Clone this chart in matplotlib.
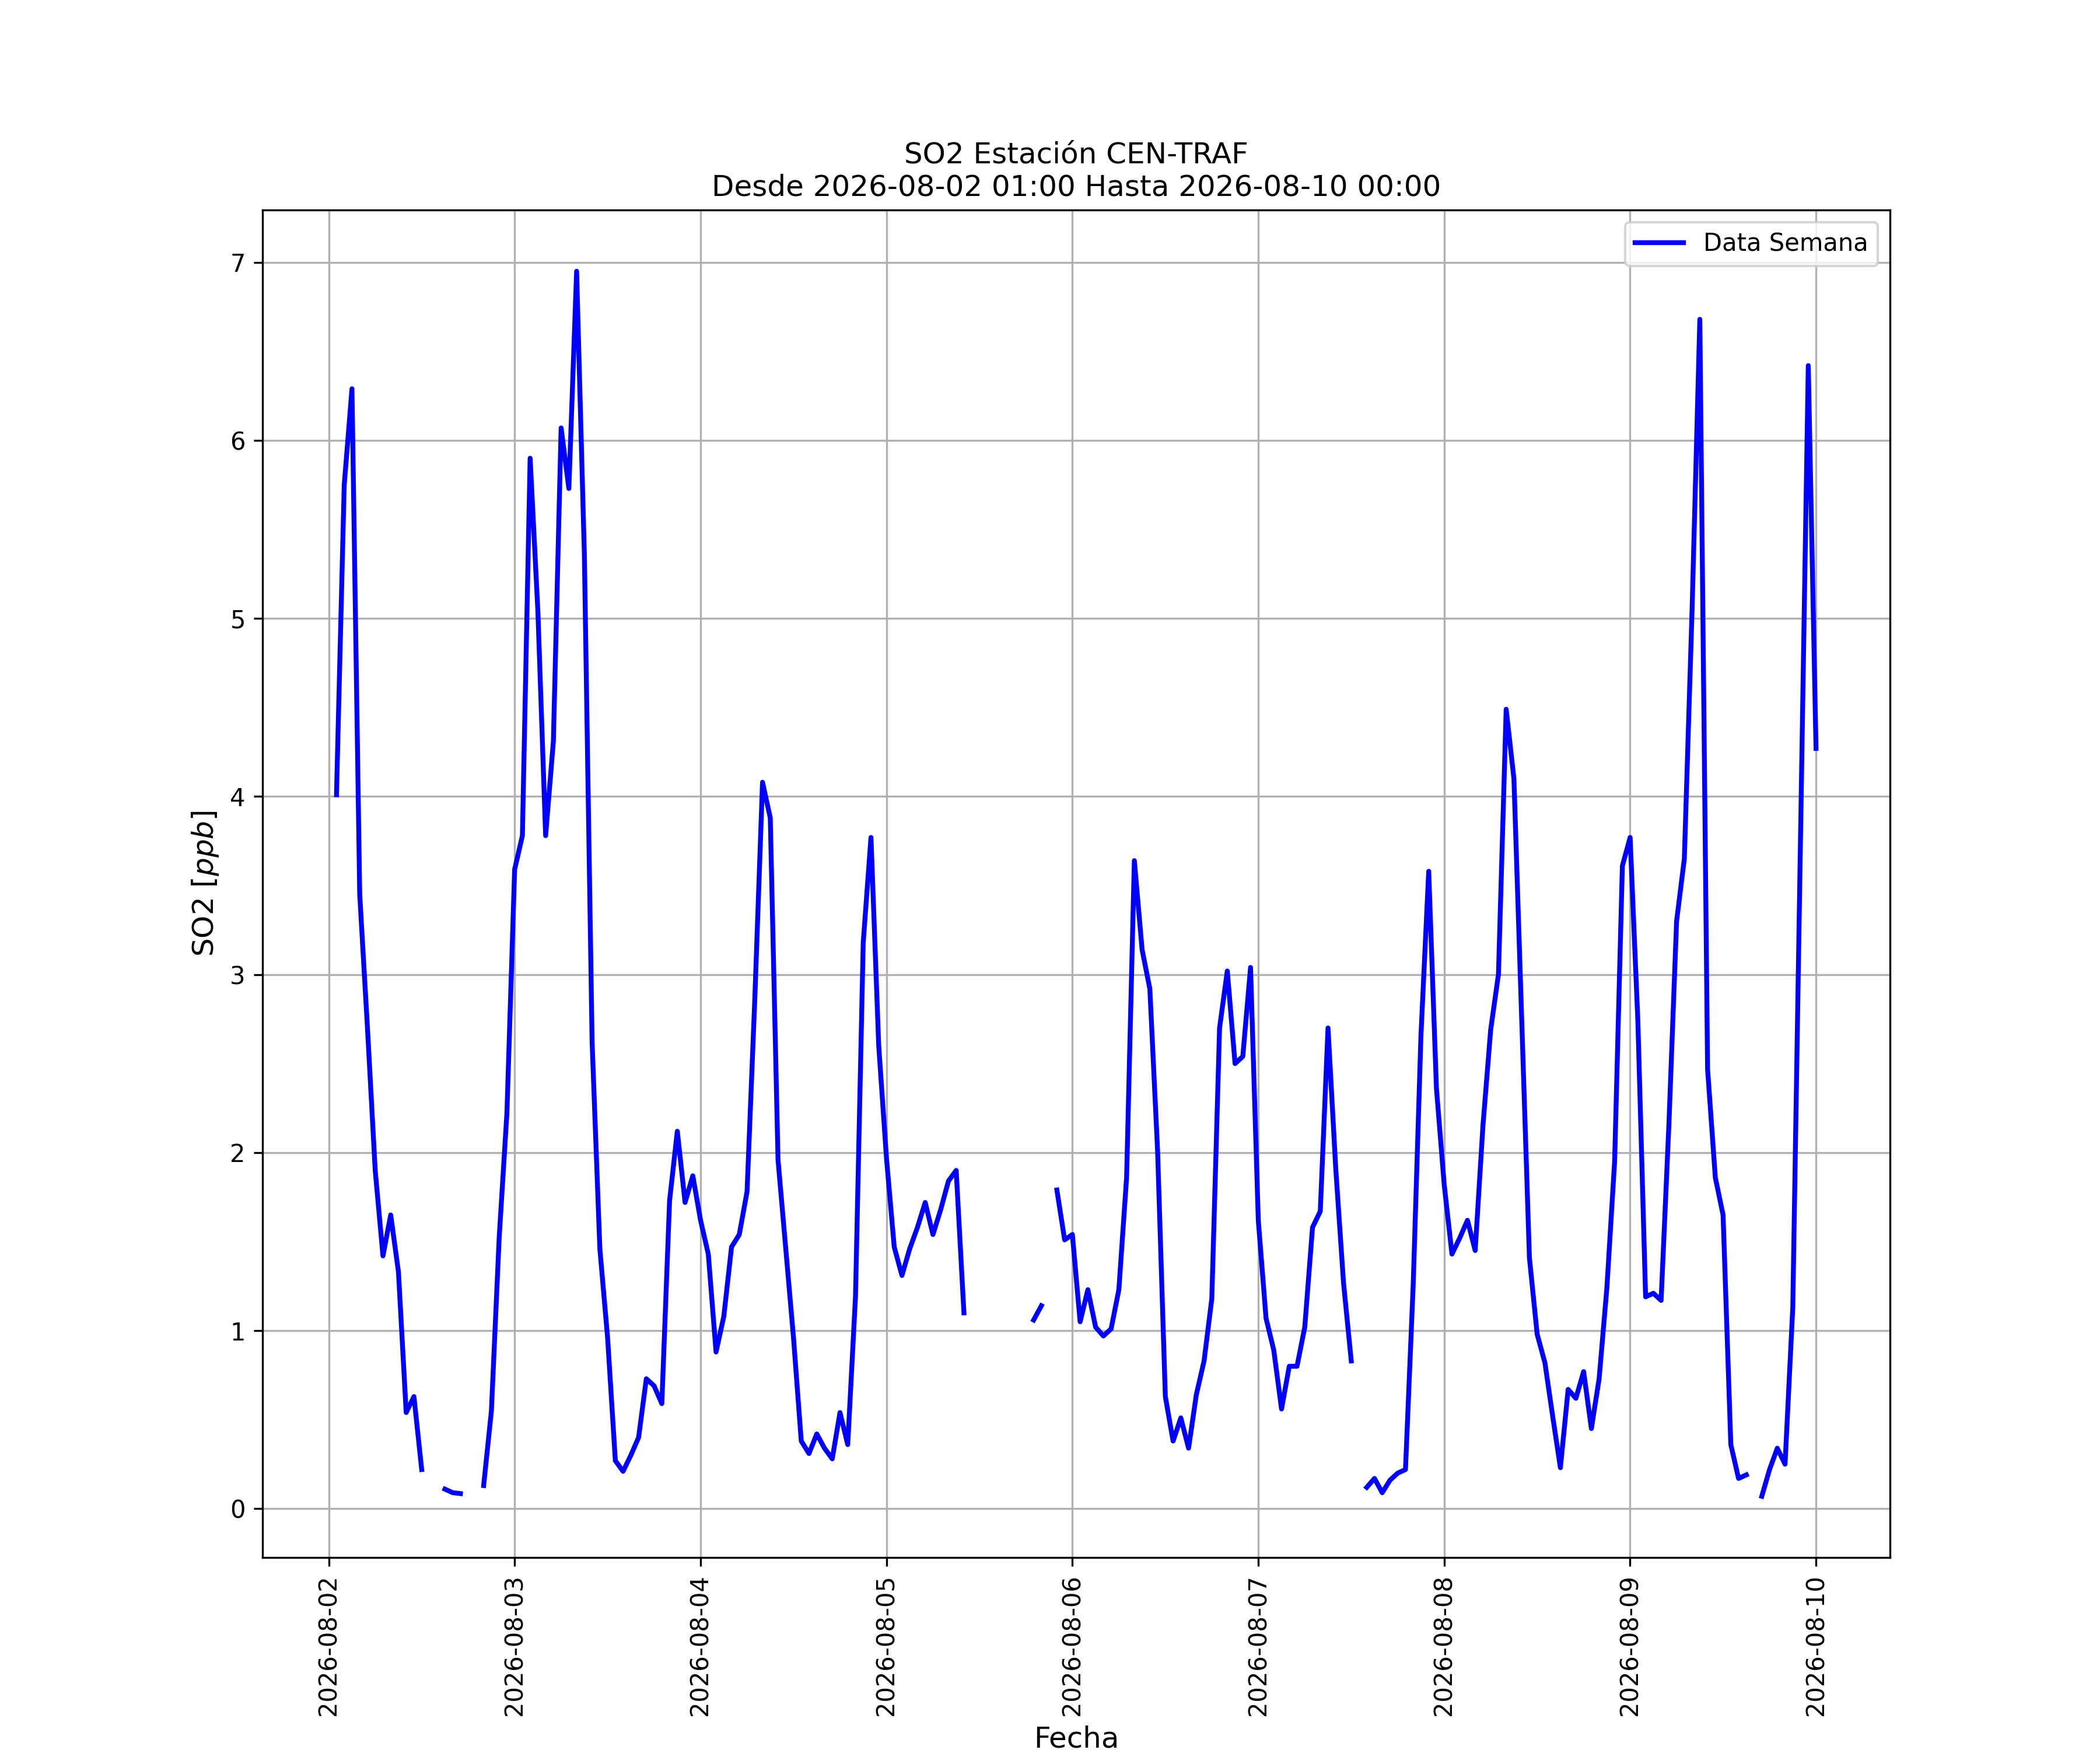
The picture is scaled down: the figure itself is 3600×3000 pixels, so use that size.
import numpy as np
import pandas as pd
import matplotlib
matplotlib.use("Agg")
import matplotlib.pyplot as plt
import matplotlib.dates as mdates

nan = np.nan

# Hourly SO2 values (ppb), 2026-08-02 01:00 .. 2026-08-10 00:00
day_0802 = [4.01, 5.75, 6.29, 3.45, 2.70, 1.90, 1.42, 1.65, 1.33, 0.54, 0.63, 0.22,
            nan, nan, 0.11, 0.09, 0.085, nan, nan, 0.13, 0.55, 1.52, 2.22]  # 01..23
day_0803 = [3.59, 3.78, 5.90, 5.04, 3.78, 4.31, 6.07, 5.73, 6.95, 5.36, 2.62, 1.46,
            0.96, 0.27, 0.21, 0.30, 0.40, 0.73, 0.69, 0.59, 1.73, 2.12, 1.72, 1.87]
day_0804 = [1.62, 1.43, 0.88, 1.08, 1.47, 1.54, 1.78, 2.86, 4.08, 3.88, 1.96, 1.46,
            0.96, 0.38, 0.31, 0.42, 0.34, 0.28, 0.54, 0.36, 1.19, 3.18, 3.77, 2.60]
day_0805 = [1.97, 1.47, 1.31, 1.46, 1.58, 1.72, 1.54, 1.68, 1.84, 1.90, 1.10, nan,
            nan, nan, nan, nan, nan, nan, nan, 1.06, 1.14, nan, 1.79, 1.51]
day_0806 = [1.54, 1.05, 1.23, 1.02, 0.97, 1.01, 1.23, 1.86, 3.64, 3.14, 2.92, 2.01,
            0.63, 0.38, 0.51, 0.34, 0.64, 0.83, 1.18, 2.70, 3.02, 2.50, 2.54, 3.04]
day_0807 = [1.62, 1.07, 0.89, 0.56, 0.80, 0.80, 1.02, 1.58, 1.67, 2.70, 1.91, 1.27,
            0.83, nan, 0.12, 0.17, 0.09, 0.16, 0.20, 0.22, 1.26, 2.66, 3.58, 2.36]
day_0808 = [1.82, 1.43, 1.52, 1.62, 1.45, 2.15, 2.69, 3.00, 4.49, 4.10, 2.75, 1.41,
            0.98, 0.82, 0.52, 0.23, 0.67, 0.62, 0.77, 0.45, 0.73, 1.24, 1.95, 3.61]
day_0809 = [3.77, 2.74, 1.19, 1.21, 1.17, 2.15, 3.30, 3.65, 5.05, 6.68, 2.47, 1.86,
            1.65, 0.36, 0.17, 0.19, nan, 0.07, 0.22, 0.34, 0.25, 1.13, 3.78, 6.42]
day_0810 = [4.27]  # 00:00

values = (day_0802 + day_0803 + day_0804 + day_0805 + day_0806 +
          day_0807 + day_0808 + day_0809 + day_0810)
fechas = pd.date_range("2026-08-02 01:00", "2026-08-10 00:00", freq="h")

title = "SO2 Estación CEN-TRAF\nDesde 2026-08-02 01:00 Hasta 2026-08-10 00:00"

fig, ax = plt.subplots(figsize=(12, 10), dpi=300)
ax.plot(fechas, values, color="blue", linewidth=2, label="Data Semana")
ax.set_title(title, fontsize=12)
ax.set_xlabel("Fecha", fontsize=12)
ax.set_ylabel("SO2 [$ppb$]", fontsize=12)
ax.xaxis.set_major_locator(mdates.DayLocator())
ax.xaxis.set_major_formatter(mdates.DateFormatter("%Y-%m-%d"))
plt.setp(ax.get_xticklabels(), rotation=90)
ax.grid(True)
ax.legend(loc="upper right")
fig.savefig("out.png", dpi=300)
